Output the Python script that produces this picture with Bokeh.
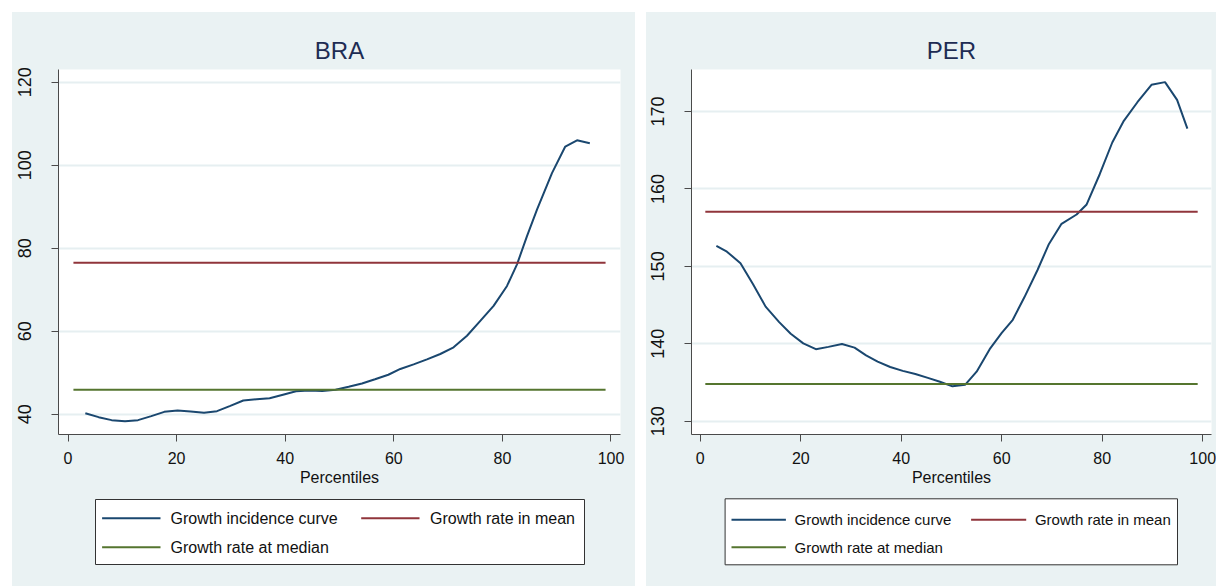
from bokeh.plotting import figure
from bokeh.models import Range1d, FixedTicker, Spacer
from bokeh.core.properties import value
from bokeh.layouts import row, column
from bokeh.embed import file_html
from bokeh.resources import INLINE

# Growth incidence curves: growth rate (%) by percentile of the distribution
pct_bra = [3.19, 5.64, 8.03, 10.50, 12.89, 15.34, 17.73, 20.18, 22.58, 25.05,
           27.44, 29.89, 32.28, 34.73, 37.13, 39.59, 41.99, 44.44, 46.83, 49.28,
           51.68, 54.14, 56.54, 58.99, 61.20, 63.65, 66.11, 68.56, 71.01, 73.48,
           75.93, 78.38, 80.85, 82.69, 84.53, 86.37, 89.13, 91.58, 93.74, 96.1]
gic_bra = [40.24, 39.28, 38.56, 38.32, 38.56, 39.52, 40.56, 40.89, 40.65, 40.32,
           40.73, 42.0, 43.3, 43.6, 43.85, 44.7, 45.5, 45.7, 45.6, 45.9,
           46.6, 47.4, 48.4, 49.5, 50.9, 52.0, 53.2, 54.5, 56.1, 58.9,
           62.5, 66.1, 70.9, 76.1, 82.9, 89.3, 98.1, 104.5, 106.0, 105.3]
mean_bra = 76.5
median_bra = 45.9

pct_per = [3.2, 5.3, 8.0, 10.5, 13.0, 15.7, 18.0, 20.5, 23.0, 25.5,
           28.2, 30.7, 33.0, 35.3, 37.8, 40.3, 42.8, 45.3, 47.7, 50.2,
           52.7, 55.0, 57.6, 60.0, 62.2, 64.5, 67.1, 69.4, 71.9, 74.9,
           76.9, 79.5, 82.0, 84.3, 87.0, 89.8, 92.5, 94.9, 96.95]
gic_per = [152.65, 151.9, 150.4, 147.7, 144.8, 142.8, 141.3, 140.05, 139.3, 139.6,
           139.96, 139.5, 138.5, 137.7, 137.0, 136.5, 136.1, 135.6, 135.1, 134.5,
           134.7, 136.4, 139.3, 141.4, 143.1, 146.0, 149.5, 152.9, 155.5, 156.7,
           158.0, 161.9, 166.0, 168.8, 171.2, 173.45, 173.8, 171.5, 167.8]
mean_per = 157.06
median_per = 134.8

rate_span = [1, 99]
x_ticks = [0, 20, 40, 60, 80, 100]
y_ticks_bra = [40, 60, 80, 100, 120]
y_ticks_per = [130, 140, 150, 160, 170]

series_labels = ["Growth incidence curve", "Growth rate in mean", "Growth rate at median"]
series_colors = ["#1a476f", "#90353b", "#55752f"]

PANEL_BG = "#eaf2f3"
GRID = "#e6eff1"
AXIS = "#4a4a4a"
TEXT = "#111111"
FONT = "Liberation Sans"


def chart(name, pct, gic, mean_g, median_g, y_ticks, y_range, width, left, right,
          label_standoff):
    p = figure(width=width, height=478, title=name,
               x_range=Range1d(-1.75, 101.75), y_range=Range1d(*y_range),
               output_backend="svg", toolbar_location=None,
               min_border_left=left, min_border_right=right,
               min_border_top=57, min_border_bottom=56)
    p.border_fill_color = PANEL_BG
    p.background_fill_color = "white"
    p.outline_line_color = None

    p.title.align = "center"
    p.title.text_font = FONT
    p.title.text_font_size = "24px"
    p.title.text_font_style = "normal"
    p.title.text_color = "#1e2c53"
    p.title.standoff = 11

    p.xaxis.ticker = FixedTicker(ticks=x_ticks)
    p.yaxis.ticker = FixedTicker(ticks=y_ticks)
    for ax in (p.xaxis, p.yaxis):
        ax.axis_line_color = AXIS
        ax.major_tick_line_color = AXIS
        ax.major_tick_in = 0
        ax.major_tick_out = 7
        ax.minor_tick_line_color = None
        ax.major_label_text_color = TEXT
    p.xaxis.major_label_text_font = FONT
    p.xaxis.major_label_text_font_size = "16px"
    p.xaxis.major_label_standoff = 10
    p.xaxis.axis_label = "Percentiles"
    p.xaxis.axis_label_text_font = FONT
    p.xaxis.axis_label_text_font_size = "16px"
    p.xaxis.axis_label_text_font_style = "normal"
    p.xaxis.axis_label_text_color = TEXT
    p.xaxis.axis_label_standoff = 2
    p.yaxis.major_label_orientation = "vertical"
    p.yaxis.major_label_text_font = FONT
    p.yaxis.major_label_text_font_size = "18px"
    p.yaxis.major_label_standoff = label_standoff

    p.xgrid.visible = False
    p.ygrid.grid_line_color = GRID
    p.ygrid.grid_line_width = 2

    p.line(pct, gic, line_color=series_colors[0], line_width=2)
    p.line(rate_span, [mean_g, mean_g], line_color=series_colors[1], line_width=2)
    p.line(rate_span, [median_g, median_g], line_color=series_colors[2], line_width=2)
    return p


def key(width, left, right, box, rows, swatch_x, label_x, font_size):
    """Legend strip under a chart; coordinates are pixels inside its frame,
    measured from the frame's bottom-left corner."""
    frame_w = width - left - right
    k = figure(width=width, height=96, x_range=Range1d(0, frame_w), y_range=Range1d(0, 96),
               output_backend="svg", toolbar_location=None,
               x_axis_location=None, y_axis_location=None,
               min_border_left=left, min_border_right=right,
               min_border_top=0, min_border_bottom=0)
    k.border_fill_color = PANEL_BG
    k.background_fill_color = PANEL_BG
    k.outline_line_color = None
    k.grid.visible = False

    k.quad(left=[box[0]], right=[box[1]], bottom=[box[2]], top=[box[3]],
           fill_color="white", line_color="#333333", line_width=1)

    # item i sits in column i % 2, row i // 2
    cols = [i % 2 for i in range(len(series_labels))]
    ys = [rows[i // 2] for i in range(len(series_labels))]
    k.segment(x0=[swatch_x[c][0] for c in cols], x1=[swatch_x[c][1] for c in cols],
              y0=ys, y1=ys, line_color=series_colors, line_width=2)
    k.text(x=[label_x[c] for c in cols], y=ys, text=series_labels,
           text_font=value(FONT), text_font_size=font_size, text_color=TEXT,
           text_align="left", text_baseline="middle")
    return k


bra = chart("BRA", pct_bra, gic_bra, mean_bra, median_bra, y_ticks_bra,
            (35.1, 123.06), 623, 46, 15, 20)
per = chart("PER", pct_per, gic_per, mean_per, median_per, y_ticks_per,
            (128.28, 175.43), 570, 45, 5, 20)

bra_key = key(623, 46, 15, box=(37, 526, 22, 87), rows=(68.3, 39.3),
              swatch_x=((43.6, 102), (302.7, 361)), label_x=(112, 371.5),
              font_size="16px")
per_key = key(570, 45, 5, box=(33.6, 486, 21.7, 87.7), rows=(66.7, 39.3),
              swatch_x=((40, 94.4), (279.6, 334.7)), label_x=(103, 343.4),
              font_size="15px")

panel_style = {"background-color": PANEL_BG}
layout = column(Spacer(height=12),
                row(Spacer(width=12), column(bra, bra_key, styles=panel_style),
                    Spacer(width=11), column(per, per_key, styles=panel_style)))

open("out.html", "w").write(file_html(layout, INLINE))
